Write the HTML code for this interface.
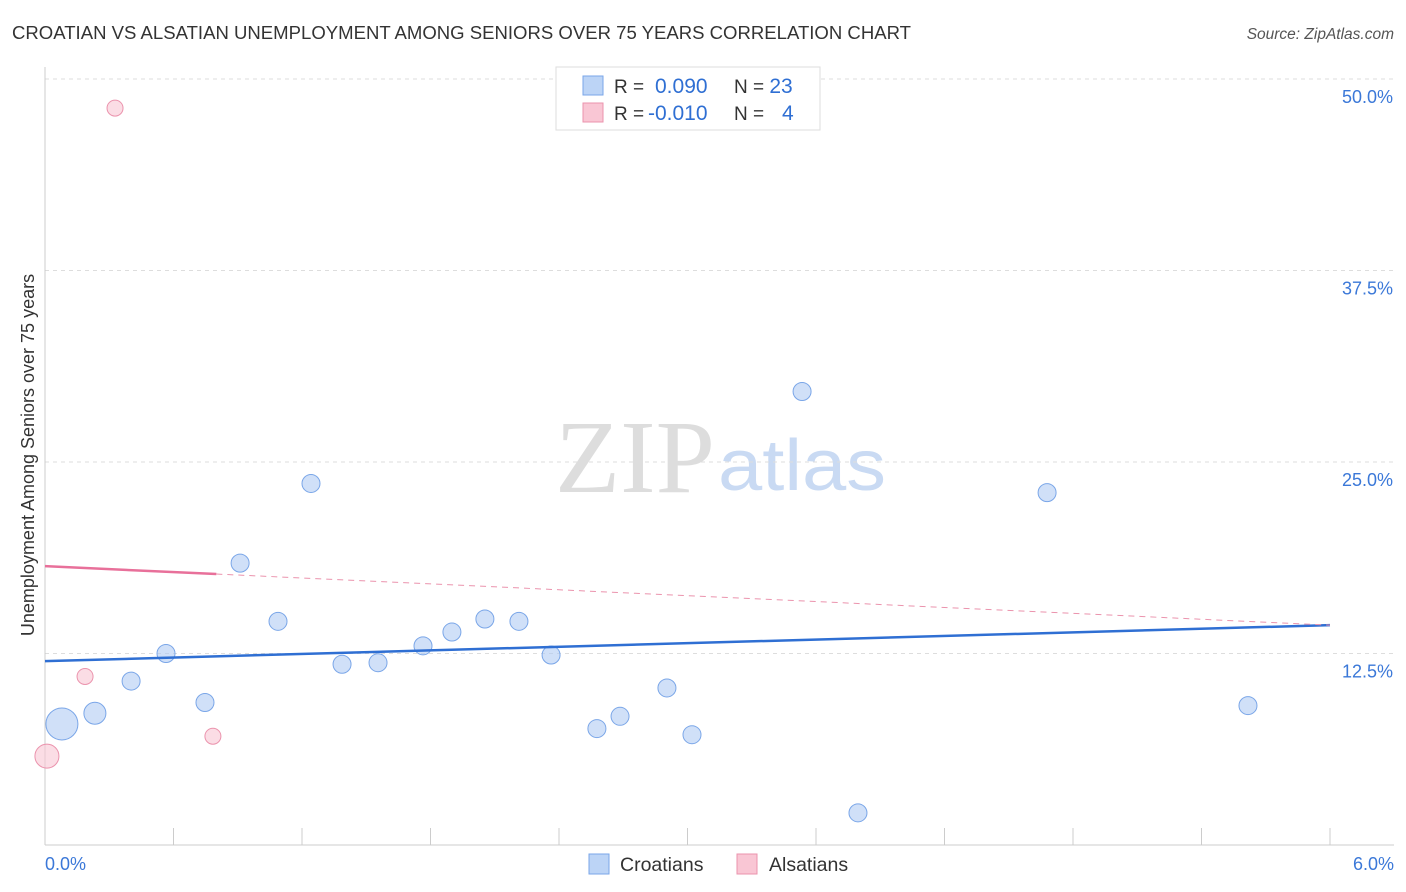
<!DOCTYPE html>
<html><head><meta charset="utf-8"><style>
body{margin:0;background:#fff;font-family:"Liberation Sans",sans-serif;}
svg{display:block}
</style></head><body>
<svg id="c" width="1406" height="892">
<text x="12" y="39" font-size="18" fill="#333" textLength="899" lengthAdjust="spacingAndGlyphs">CROATIAN VS ALSATIAN UNEMPLOYMENT AMONG SENIORS OVER 75 YEARS CORRELATION CHART</text>
<text x="1394" y="39" font-size="15.5" fill="#555" font-style="italic" text-anchor="end">Source: ZipAtlas.com</text>
<text x="555" y="492" font-size="104" fill="#ddd" font-family="Liberation Serif,serif" textLength="160" lengthAdjust="spacingAndGlyphs">ZIP</text>
<text x="718" y="490" font-size="72" fill="#c9daf3" textLength="168" lengthAdjust="spacingAndGlyphs">atlas</text>
<text transform="translate(34,455) rotate(-90)" font-size="18" fill="#333" text-anchor="middle">Unemployment Among Seniors over 75 years</text>
<g id="grid"></g><g id="marks"></g>
<g>
<rect x="556" y="67" width="264" height="63" fill="#fff" stroke="#ddd"/>
<rect x="583" y="76" width="20" height="19" fill="#bcd4f6" stroke="#7aa6e8"/>
<rect x="583" y="103" width="20" height="19" fill="#f9c6d4" stroke="#eb93ad"/>
<text x="614" y="93" font-size="19" fill="#333">R = <tspan fill="#2f6fd3" x="655" font-size="21">0.090</tspan><tspan x="734" fill="#333">N = </tspan><tspan fill="#2f6fd3" font-size="21">23</tspan></text>
<text x="614" y="120" font-size="19" fill="#333">R = <tspan fill="#2f6fd3" x="648" font-size="21">-0.010</tspan><tspan x="734" fill="#333">N = </tspan><tspan fill="#2f6fd3" x="782" font-size="21">4</tspan></text>
</g>
<g>
<rect x="589" y="854" width="20" height="20" fill="#bcd4f6" stroke="#7aa6e8"/>
<text x="620" y="871" font-size="19.5" fill="#333">Croatians</text>
<rect x="737" y="854" width="20" height="20" fill="#f9c6d4" stroke="#eb93ad"/>
<text x="769" y="871" font-size="19.5" fill="#333">Alsatians</text>
</g>
</svg>
<script>
const yTicks=[12.5,25,37.5,50];
const xLabels=["0.0%","6.0%"];
const croX=[0.079,0.233,0.402,0.565,0.747,0.911,1.088,1.242,1.387,1.555,1.765,1.900,2.054,2.213,2.363,2.577,2.685,2.904,3.021,3.535,3.796,4.679,5.617];
const croY=[7.9,8.6,10.7,12.5,9.3,18.4,14.6,23.6,11.8,11.9,13.0,13.9,14.75,14.6,12.4,7.6,8.4,10.25,7.2,29.6,2.1,23.0,9.1];
const croR=[16,11,9,9,9,9,9,9,9,9,9,9,9,9,9,9,9,9,9,9,9,9,9];
const alsX=[0.009,0.187,0.327,0.784];
const alsY=[5.8,11.0,48.1,7.1];
const alsR=[12,8,8,8];
const croTrend=[12.0,14.35];
const alsTrend=[18.2,14.35];
const alsSolidEnd=0.8;
const NS="http://www.w3.org/2000/svg";
const X=v=>45+v/6*1285, Y=v=>845-v/12.5*191.5;
const grid=document.getElementById('grid'),marks=document.getElementById('marks');
function mk(p,tag,a){const e=document.createElementNS(NS,tag);for(const k in a)e.setAttribute(k,a[k]);p.appendChild(e);return e;}
yTicks.forEach(t=>{
 const l=mk(grid,'line',{x1:45,x2:1394,y1:Y(t),y2:Y(t),stroke:'#ddd','stroke-dasharray':'4,4'});
 
 
 const tx=mk(grid,'text',{x:1393,y:Y(t)+24,'font-size':18,fill:'#3b78d8','text-anchor':'end'});tx.textContent=t.toFixed(1)+'%';
 
 
});
mk(grid,'line',{x1:45,x2:45,y1:67,y2:845,stroke:'#ccc'});
mk(grid,'line',{x1:45,x2:1394,y1:845,y2:845,stroke:'#ccc'});
for(let i=0;i<=10;i++){const x=45+i*128.5;mk(grid,'line',{x1:x,x2:x,y1:828,y2:845,stroke:'#ccc'});}
xLabels.forEach((s,i)=>{const t=mk(grid,'text',{x:i?1394:45,y:870,'font-size':18,fill:'#3b78d8','text-anchor':i?'end':'start'});t.textContent=s;
 
 });
croX.forEach((x,i)=>{const c=mk(marks,'circle',{cx:X(x),cy:Y(croY[i]),r:croR[i],fill:'rgba(176,204,244,0.6)',stroke:'#7aa6e8'});
 
 });
alsX.forEach((x,i)=>{const c=mk(marks,'circle',{cx:X(x),cy:Y(alsY[i]),r:alsR[i],fill:'rgba(249,198,212,0.6)',stroke:'#eb93ad'});
 
 });
const bl=mk(marks,'line',{x1:X(0),x2:X(6),y1:Y(croTrend[0]),y2:Y(croTrend[1]),stroke:'#2f6fd3','stroke-width':2.5});


const ym=alsTrend[0]+(alsTrend[1]-alsTrend[0])*alsSolidEnd/6;
const pl=mk(marks,'line',{x1:X(0),x2:X(alsSolidEnd),y1:Y(alsTrend[0]),y2:Y(ym),stroke:'#e8709a','stroke-width':2.5});


const pd=mk(marks,'line',{x1:X(alsSolidEnd),x2:X(6),y1:Y(ym),y2:Y(alsTrend[1]),stroke:'#eb93ad','stroke-width':1,'stroke-dasharray':'6,5'});


</script>
</body></html>
